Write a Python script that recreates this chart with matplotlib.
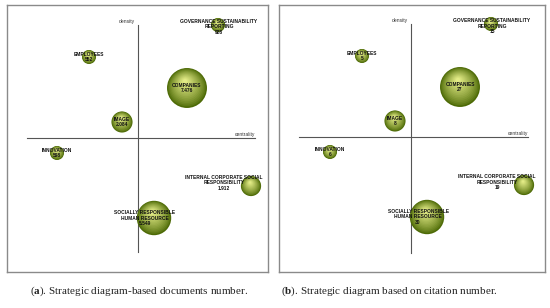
import numpy as np
import matplotlib.pyplot as plt
from matplotlib.patches import Circle
from matplotlib.colors import to_rgb

# themes of the strategic diagram
themes = ["GOVERNANCE SUSTAINABILITY\nREPORTING", "EMPLOYEES", "COMPANIES", "IMAGE",
          "INNOVATION", "INTERNAL CORPORATE SOCIAL\nRESPONSIBILITY",
          "SOCIALLY RESPONSIBLE\nHUMAN RESOURCE"]
centrality = [80, -49, 49, -16, -81, 113, 16]
density = [113, 81, 50, 16, -15, -48, -80]
documents = [928, 552, 7476, 2084, 598, 1912, 5549]
doc_labels = ["928", "552", "7.476", "2.084", "598", "1.912", "5.549"]
citations = ["15", "5", "27", "8", "6", "19", "30"]

# label shift relative to the bubble (style only)
label_dx = [1, 0, 0, 0, 0, -27, -9]
label_dy = [-2, 0, 0, 0, 0, 3, 0]

plt.rcParams['font.family'] = ['Liberation Sans', 'DejaVu Sans']
plt.rcParams['mathtext.fontset'] = 'custom'
plt.rcParams['mathtext.rm'] = 'Liberation Serif'
plt.rcParams['mathtext.bf'] = 'Liberation Serif:bold'

W, H = 550, 308
fig = plt.figure(figsize=(5.5, 3.08), dpi=100)

dark = np.array(to_rgb('#4d6a06'))
light = np.array(to_rgb('#e2eb86'))


def bubble(ax, x, y, r):
    n = 16
    for k in range(n):
        t = k / (n - 1)
        rr = r * (1 - 0.9 * t)
        m = t ** 0.8
        c = dark * (1 - m) + light * m
        ax.add_patch(Circle((x - 0.1 * r * t, y + 0.35 * r * t), rr,
                            color=c, lw=0, zorder=3))


def panel(box, origin, values, vline, hline):
    x0, y0, x1, y1 = box
    ox, oy = origin
    ax = fig.add_axes([x0 / W, 1 - y1 / H, (x1 - x0) / W, (y1 - y0) / H])
    ax.set_xlim(x0 - ox, x1 - ox)
    ax.set_ylim(oy - y1, oy - y0)
    ax.set_xticks([])
    ax.set_yticks([])
    for s in ax.spines.values():
        s.set_color('#8a8a8a')
        s.set_linewidth(1.0)
    ax.plot([0, 0], vline, color='#555555', lw=0.8, zorder=2)
    ax.plot(hline, [0, 0], color='#555555', lw=0.8, zorder=2)
    ax.text(-3, vline[1] + 1, 'density', fontsize=3.6, ha='right', va='bottom',
            color='#333333')
    ax.text(hline[1], 1, 'centrality', fontsize=3.6, ha='right', va='bottom',
            color='#333333')
    for i in range(len(themes)):
        r = 0.231 * np.sqrt(documents[i])
        r = max(r, 7)
        bubble(ax, centrality[i], density[i], r)
        ax.text(centrality[i] + label_dx[i], density[i] + label_dy[i],
                themes[i] + '\n' + values[i], fontsize=3.5, fontweight='bold',
                ha='center', va='center', linespacing=1.05, color='#111111',
                zorder=5)
    return ax


panel((7, 5, 268, 272), (138, 138), doc_labels, (-114, 113), (-111, 117))
panel((279, 5, 545, 272), (411, 137), citations, (-116, 113), (-112, 117))

fig.text(139 / W, 1 - 291 / H, r'($\mathbf{a}$). Strategic diagram-based documents number.',
         fontsize=8, family='Liberation Serif', ha='center', va='center',
         color='#222222')
fig.text(389 / W, 1 - 291 / H, r'($\mathbf{b}$). Strategic diagram based on citation number.',
         fontsize=8, family='Liberation Serif', ha='center', va='center',
         color='#222222')

fig.savefig('out.png', dpi=100)
